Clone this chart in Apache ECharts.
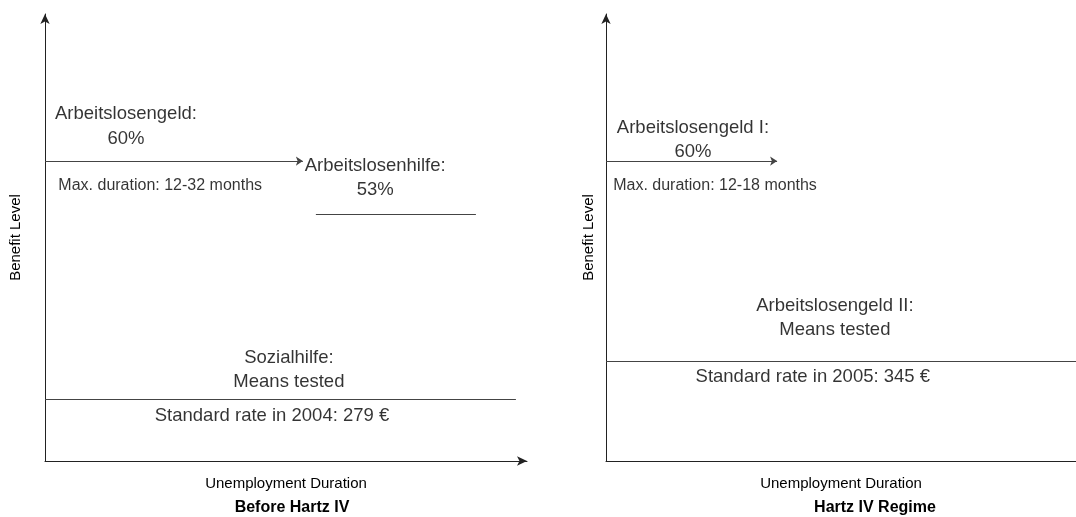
<!DOCTYPE html>
<html>
<head>
<meta charset="utf-8">
<script src="https://cdn.jsdelivr.net/npm/echarts@6/dist/echarts.min.js"></script>
<style>html,body{margin:0;padding:0;background:#fff}#main{width:1076px;height:517px}</style>
</head>
<body>
<div id="main"></div>
<script>
// benefit levels (arbitrary 0-100 scale) and durations (0-100)
var beforeAlg = [[0, 67.1], [53.5, 67.1]];
var beforeAlhi = [[56.2, 55.3], [89.4, 55.3]];
var beforeSozial = [[0, 13.9], [97.7, 13.9]];
var afterAlg1 = [[0, 67.1], [36.4, 67.1]];
var afterAlg2 = [[0, 22.4], [100, 22.4]];

var beforeLabels = [
  [16.8, 74.8, 'Arbeitslosengeld:\n60%', 18.5],
  [23.9, 61.7, 'Max. duration: 12-32 months', 16],
  [68.5, 63.3, 'Arbeitslosenhilfe:\n53%', 18.5],
  [50.6, 20.4, 'Sozialhilfe:\nMeans tested', 18.5],
  [47.1, 10.1, 'Standard rate in 2004: 279 €', 18.5]
];
var afterLabels = [
  [18.5, 71.8, 'Arbeitslosengeld I:\n60%', 18.5],
  [23.2, 61.7, 'Max. duration: 12-18 months', 16],
  [48.7, 32, 'Arbeitslosengeld II:\nMeans tested', 18.5],
  [44, 18.8, 'Standard rate in 2005: 345 €', 18.5]
];

var chart = echarts.init(document.getElementById('main'));
var font = 'Arial, "Liberation Sans", sans-serif';

function axisX(idx, arrow) {
  return {
    type: 'value', gridIndex: idx, min: 0, max: 100,
    name: 'Unemployment Duration', nameLocation: 'middle', nameGap: 15,
    nameTextStyle: {color: '#000', fontSize: 15, fontFamily: font},
    axisLine: {lineStyle: {color: '#222', width: 1}, symbol: arrow ? ['none', 'arrow'] : 'none', symbolSize: [7, 10]},
    axisTick: {show: false}, axisLabel: {show: false}, splitLine: {show: false}
  };
}
function axisY(idx, gap) {
  return {
    type: 'value', gridIndex: idx, min: 0, max: 100,
    name: 'Benefit Level', nameLocation: 'middle', nameGap: gap,
    nameTextStyle: {color: '#000', fontSize: 15, fontFamily: font},
    axisLine: {lineStyle: {color: '#222', width: 1}, symbol: ['none', 'arrow'], symbolSize: [7, 10]},
    axisTick: {show: false}, axisLabel: {show: false}, splitLine: {show: false}
  };
}
function seg(idx, data, arrow) {
  return {
    type: 'lines', coordinateSystem: 'cartesian2d', xAxisIndex: idx, yAxisIndex: idx,
    symbol: arrow ? ['none', 'arrow'] : 'none', symbolSize: 7,
    lineStyle: {color: '#444', width: 1, opacity: 1},
    data: [{coords: data}], silent: true, z: 3
  };
}
function texts(idx, list) {
  return {
    type: 'scatter', xAxisIndex: idx, yAxisIndex: idx, symbolSize: 0, silent: true,
    data: list.map(function (d) {
      return {value: [d[0], d[1]], label: {show: true, position: 'inside', formatter: d[2],
        fontSize: d[3], color: '#000', fontFamily: font, lineHeight: d[3] + 6, align: 'center'}};
    })
  };
}

chart.setOption({
  animation: false,
  title: [
    {text: 'Before Hartz IV', left: 287, top: 495, textAlign: 'center',
      textStyle: {fontSize: 16, fontWeight: 'bold', color: '#000', fontFamily: font}},
    {text: 'Hartz IV Regime', left: 870, top: 495, textAlign: 'center',
      textStyle: {fontSize: 16, fontWeight: 'bold', color: '#000', fontFamily: font}}
  ],
  grid: [
    {left: 45, top: 14, width: 482, height: 447},
    {left: 606, top: 14, width: 470, height: 447}
  ],
  xAxis: [axisX(0, true), axisX(1, false)],
  yAxis: [axisY(0, 22), axisY(1, 10)],
  series: [
    seg(0, beforeAlg, true),
    seg(0, beforeAlhi, false),
    seg(0, beforeSozial, false),
    seg(1, afterAlg1, true),
    seg(1, afterAlg2, false),
    texts(0, beforeLabels),
    texts(1, afterLabels)
  ]
});
</script>
</body>
</html>
